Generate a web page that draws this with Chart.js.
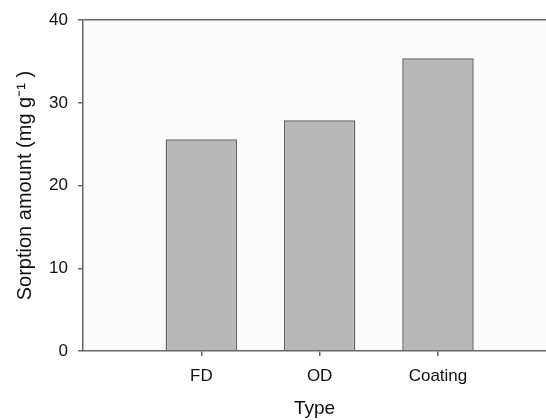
<!DOCTYPE html>
<html>
<head>
<meta charset="utf-8">
<script src="https://cdn.jsdelivr.net/npm/chart.js@4/dist/chart.umd.min.js"></script>
<style>
html,body{margin:0;padding:0;background:#fff;overflow:hidden;}
#wrap{width:546px;height:420px;position:relative;}
</style>
</head>
<body>
<div id="wrap"><canvas id="c" width="546" height="420"></canvas></div>
<script>
const categories = ['FD', 'OD', 'Coating'];
const categoryPositions = [1, 2, 3];
const sorptionValues = [25.6, 27.9, 35.4];
const yTicks = [0, 10, 20, 30, 40];

const FONT = "'Liberation Sans', Arial, sans-serif";
const AXIS = '#666666';

const plotBg = {
  id: 'plotBg',
  beforeDraw(chart) {
    const {ctx, chartArea: a} = chart;
    ctx.save();
    ctx.fillStyle = '#fbfbfb';
    ctx.fillRect(a.left, a.top, a.right - a.left, a.bottom - a.top);
    ctx.restore();
  }
};

new Chart(document.getElementById('c'), {
  type: 'bar',
  data: {
    datasets: [{
      data: categoryPositions.map((x, i) => ({x: x, y: sorptionValues[i]})),
      backgroundColor: '#b8b8b8',
      borderColor: '#666666',
      borderWidth: 1.5,
      borderSkipped: 'bottom',
      categoryPercentage: 1,
      barPercentage: 0.604
    }]
  },
  plugins: [plotBg],
  options: {
    responsive: false,
    animation: false,
    layout: {padding: {left: 0, right: 0, top: 13, bottom: 0}},
    plugins: {legend: {display: false}, tooltip: {enabled: false}},
    scales: {
      x: {
        type: 'linear',
        min: 0,
        max: 3.913,
        offset: false,
        afterBuildTicks(scale) {
          scale.ticks = categoryPositions.map(v => ({value: v}));
        },
        afterFit(scale) { scale.height = 69; },
        ticks: {
          color: '#111',
          font: {family: FONT, size: 17},
          padding: 10,
          maxRotation: 0,
          autoSkip: false,
          callback: (v) => categories[categoryPositions.indexOf(v)] ?? ''
        },
        grid: {
          offset: false,
          color: 'transparent',
          tickColor: AXIS,
          tickLength: 5,
          lineWidth: 1.5,
          drawOnChartArea: false
        },
        border: {color: AXIS, width: 1.5},
        title: {
          display: true,
          text: 'Type',
          color: '#111',
          font: {family: FONT, size: 19},
          padding: {top: 0, bottom: 0}
        }
      },
      y: {
        min: 0,
        max: 40,
        afterBuildTicks(scale) {
          scale.ticks = yTicks.map(v => ({value: v}));
        },
        afterFit(scale) { scale.width = 83; },
        ticks: {
          color: '#111',
          font: {family: FONT, size: 17},
          padding: 10
        },
        grid: {
          color: (c) => (c.tick && c.tick.value === 40) ? AXIS : 'transparent',
          tickColor: AXIS,
          tickLength: 5,
          lineWidth: 1.5
        },
        border: {color: AXIS, width: 1.5},
        title: {
          display: true,
          text: 'Sorption amount (mg g\u207B\u00B9 )',
          color: '#111',
          font: {family: FONT, size: 20},
          padding: {top: 13, bottom: 0}
        }
      }
    }
  }
});
</script>
</body>
</html>
